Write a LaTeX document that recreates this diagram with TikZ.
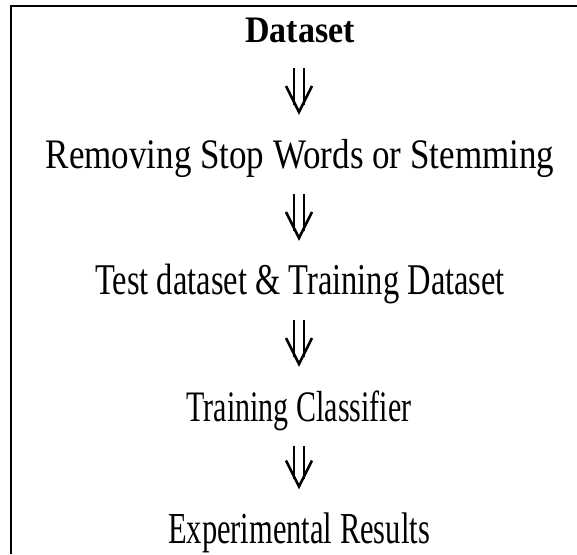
\documentclass[tikz,border=0pt]{standalone}
\usepackage{fontspec}
\setmainfont{Liberation Serif}
\usepackage{graphicx}
\usetikzlibrary{arrows.meta}
\newcommand{\tallbox}[2]{\scalebox{1}[#1]{#2}}

\begin{document}
\begin{tikzpicture}[x=1pt, y=1pt,
  stage/.style={inner sep=0pt, anchor=base, text height=27pt, text depth=0pt},
  shaft/.style={double, double distance=7.5pt, line width=2.5pt,
    shorten <=25pt, shorten >=37pt},
  head/.style={white, line width=0.2pt, shorten <=25pt, shorten >=27pt,
    -{Straight Barb[black, length=26pt, width=26pt, line width=2.5pt]}}]
\useasboundingbox (0,0) rectangle (577,554);
\draw[line width=2pt] (11,0) -- (11,548) -- (577,548);
\coordinate (axis) at (299,0);
\node[stage, font=\fontsize{34}{36}\selectfont\bfseries] (data) at (300,511)
  {\tallbox{1.1}{Dataset}};
\node[stage, font=\fontsize{35}{38}\selectfont] (stop) at (300,385)
  {\tallbox{1.2}{Removing Stop Words or Stemming}};
\node[stage, font=\fontsize{32.5}{36}\selectfont] (split) at (300,259)
  {\tallbox{1.35}{Test dataset \& Training Dataset}};
\node[stage, font=\fontsize{30}{34}\selectfont] (train) at (299,133)
  {\tallbox{1.45}{Training Classifier}};
\node[stage, font=\fontsize{30.5}{34}\selectfont] (result) at (299,10.5)
  {\tallbox{1.45}{Experimental Results}};

\foreach \a/\b in {data/stop, stop/split, split/train, train/result} {
  \draw[shaft] (\a.south -| axis) -- (\b.north -| axis);
  \draw[head] (\a.south -| axis) -- (\b.north -| axis);
}

\end{tikzpicture}
\end{document}
